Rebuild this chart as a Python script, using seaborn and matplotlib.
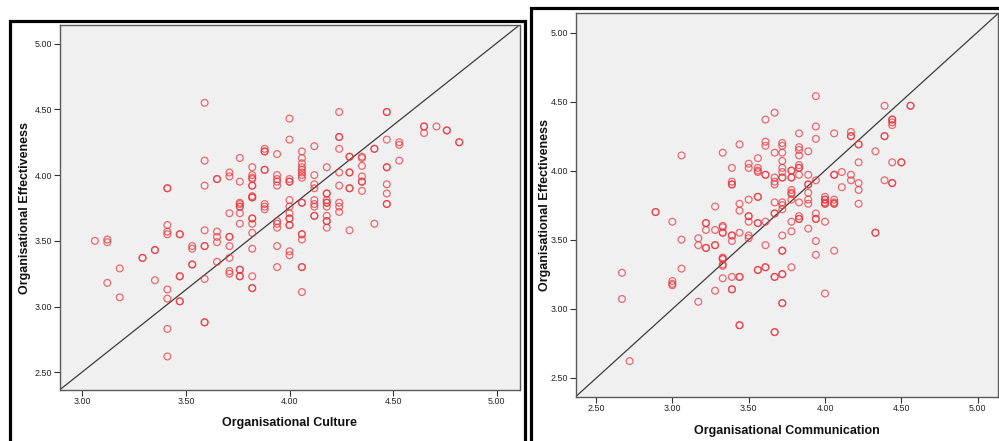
import matplotlib
matplotlib.use("Agg")
import matplotlib.pyplot as plt
from matplotlib.patches import Rectangle
from matplotlib.ticker import FixedLocator, FormatStrFormatter
import pandas as pd
import seaborn as sns

# ---- data: culture score levels and the effectiveness scores observed at each level
culture_levels = [3.06, 3.12, 3.18, 3.29, 3.35, 3.41, 3.47, 3.53, 3.59, 3.65,
                  3.71, 3.76, 3.82, 3.88, 3.94, 4.00, 4.06, 4.12, 4.18, 4.24,
                  4.29, 4.35, 4.41, 4.47, 4.53, 4.65, 4.71, 4.76, 4.82]
effectiveness_by_culture = [
    [3.50],
    [3.51, 3.49, 3.18],
    [3.29, 3.07],
    [3.37, 3.37],
    [3.43, 3.43, 3.20],
    [3.90, 3.90, 3.62, 3.57, 3.55, 3.13, 3.06, 2.83, 2.62],
    [3.55, 3.55, 3.23, 3.23, 3.04, 3.04],
    [3.46, 3.44, 3.32, 3.32],
    [4.55, 4.11, 3.92, 3.58, 3.46, 3.46, 3.21, 2.88, 2.88],
    [3.97, 3.97, 3.57, 3.53, 3.49, 3.34],
    [4.02, 3.99, 3.71, 3.53, 3.53, 3.46, 3.37, 3.27, 3.25],
    [4.13, 3.95, 3.79, 3.78, 3.76, 3.76, 3.71, 3.63, 3.28, 3.28, 3.23, 3.23],
    [4.06, 4.00, 3.98, 3.97, 3.92, 3.92, 3.84, 3.83, 3.83, 3.67, 3.67, 3.63,
     3.56, 3.44, 3.23, 3.14, 3.14],
    [4.20, 4.18, 4.18, 4.04, 4.04, 3.78, 3.76, 3.74],
    [4.16, 4.00, 3.97, 3.95, 3.92, 3.65, 3.63, 3.60, 3.46, 3.30],
    [4.43, 4.27, 3.97, 3.95, 3.95, 3.81, 3.76, 3.71, 3.67, 3.67, 3.62, 3.62,
     3.42, 3.39],
    [4.18, 4.13, 4.09, 4.06, 4.04, 4.02, 4.00, 3.98, 3.79, 3.79, 3.55, 3.55,
     3.51, 3.30, 3.30, 3.11],
    [4.22, 4.00, 3.93, 3.90, 3.81, 3.78, 3.76, 3.69, 3.69],
    [4.06, 3.86, 3.86, 3.81, 3.79, 3.79, 3.76, 3.69, 3.65, 3.65, 3.60],
    [4.48, 4.29, 4.29, 4.20, 4.02, 3.92, 3.79, 3.76, 3.72],
    [4.14, 4.14, 4.02, 4.02, 3.90, 3.90, 3.58],
    [4.14, 4.13, 4.07, 3.99, 3.95, 3.95, 3.88],
    [4.20, 4.20, 3.63],
    [4.48, 4.48, 4.27, 4.06, 4.06, 3.93, 3.86, 3.78, 3.78],
    [4.25, 4.23, 4.11],
    [4.37, 4.37, 4.32],
    [4.37],
    [4.34, 4.34],
    [4.25, 4.25],
]

# ---- data: communication score levels and the effectiveness scores at each level
communication_levels = [2.67, 2.72, 2.89, 3.00, 3.06, 3.17, 3.22, 3.28, 3.33, 3.39,
                        3.44, 3.50, 3.56, 3.61, 3.67, 3.72, 3.78, 3.83, 3.89, 3.94,
                        4.00, 4.06, 4.11, 4.17, 4.22, 4.33, 4.39, 4.44, 4.50, 4.56]
effectiveness_by_communication = [
    [3.26, 3.07],
    [2.62],
    [3.70, 3.70],
    [3.63, 3.20, 3.18, 3.17],
    [4.11, 3.50, 3.29],
    [3.51, 3.46, 3.05],
    [3.62, 3.62, 3.57, 3.44, 3.44],
    [3.74, 3.57, 3.46, 3.46, 3.13],
    [4.13, 3.60, 3.59, 3.55, 3.55, 3.37, 3.36, 3.36, 3.32, 3.31, 3.22],
    [4.02, 3.92, 3.90, 3.90, 3.53, 3.53, 3.49, 3.23, 3.14, 3.14],
    [4.19, 3.76, 3.71, 3.55, 3.23, 3.23, 2.88, 2.88],
    [4.05, 4.02, 3.79, 3.67, 3.67, 3.63, 3.53, 3.51],
    [4.09, 4.02, 4.00, 3.99, 3.81, 3.81, 3.62, 3.62, 3.28, 3.28],
    [4.37, 4.21, 4.18, 3.97, 3.97, 3.63, 3.46, 3.30, 3.30],
    [4.42, 4.13, 3.95, 3.92, 3.90, 3.77, 3.69, 3.69, 3.23, 3.23, 2.83, 2.83],
    [4.20, 4.18, 4.13, 4.07, 4.02, 3.99, 3.95, 3.95, 3.77, 3.75, 3.72, 3.53,
     3.42, 3.42, 3.25, 3.25, 3.04, 3.04],
    [4.00, 4.00, 3.95, 3.95, 3.86, 3.84, 3.83, 3.79, 3.63, 3.56, 3.30],
    [4.27, 4.17, 4.15, 4.11, 4.04, 4.02, 4.02, 3.97, 3.77, 3.67, 3.65, 3.65],
    [4.14, 3.97, 3.90, 3.90, 3.84, 3.79, 3.76, 3.58],
    [4.54, 4.32, 4.23, 3.93, 3.69, 3.65, 3.65, 3.49, 3.39],
    [3.81, 3.79, 3.79, 3.77, 3.76, 3.76, 3.63, 3.11],
    [4.27, 3.97, 3.97, 3.79, 3.77, 3.76, 3.76, 3.42],
    [3.99, 3.88],
    [4.28, 4.25, 4.25, 3.97, 3.93],
    [4.19, 4.19, 4.06, 3.91, 3.86, 3.76],
    [4.14, 3.55, 3.55],
    [4.47, 4.25, 4.25, 3.93],
    [4.37, 4.35, 4.33, 4.37, 4.06, 3.91, 3.91],
    [4.06, 4.06],
    [4.47, 4.47],
]

culture_ticks = [3.00, 3.50, 4.00, 4.50, 5.00]
communication_ticks = [2.50, 3.00, 3.50, 4.00, 4.50, 5.00]
effectiveness_ticks = [2.50, 3.00, 3.50, 4.00, 4.50, 5.00]

Y_NAME = "Organisational Effectiveness"


def to_frame(levels, groups, x_name):
    rows = [(x, y) for x, ys in zip(levels, groups) for y in ys]
    return pd.DataFrame(rows, columns=[x_name, Y_NAME])


culture_df = to_frame(culture_levels, effectiveness_by_culture, "Organisational Culture")
communication_df = to_frame(communication_levels, effectiveness_by_communication,
                            "Organisational Communication")

sns.set_theme(style="white")
plt.rcParams["font.family"] = ["Liberation Sans", "DejaVu Sans"]

W, H = 999, 441
fig = plt.figure(figsize=(W / 100, H / 100), dpi=100)
fig.patch.set_facecolor("white")

# heavy black output frames around each chart
fig.add_artist(Rectangle((9.5 / W, -0.1), (525.0 - 9.5) / W, 1.1 - 20.5 / H,
                         transform=fig.transFigure, fill=False, lw=2.3,
                         ec="black"))
fig.add_artist(Rectangle((530.5 / W, -0.1), 0.6, 1.1 - 8.0 / H,
                         transform=fig.transFigure, fill=False, lw=2.3,
                         ec="black"))


def px_axes(left, top, right, bottom):
    return fig.add_axes([left / W, 1 - bottom / H, (right - left) / W,
                         (bottom - top) / H])


ax1 = px_axes(59.5, 25.0, 519.5, 390.0)
ax2 = px_axes(575.7, 13.3, 998.3, 396.7)

POINT_RED = "#e8343c"


def draw(ax, df, x_name, xlim, ylim, xticks, yticks, xlabel_y, ylabel_x):
    ax.set_facecolor("#f0f0f0")
    sns.scatterplot(data=df, x=x_name, y=Y_NAME, ax=ax, marker="o", s=24,
                    facecolors="none", edgecolor=POINT_RED, linewidth=0.9,
                    alpha=0.72, legend=False, zorder=3)
    # 45-degree reference line across the plot frame
    ax.plot([0, 1], [0, 1], transform=ax.transAxes, color="#3c3c3c",
            lw=0.9, zorder=2)
    ax.set_xlim(*xlim)
    ax.set_ylim(*ylim)
    ax.xaxis.set_major_locator(FixedLocator(xticks))
    ax.yaxis.set_major_locator(FixedLocator(yticks))
    ax.xaxis.set_major_formatter(FormatStrFormatter("%.2f"))
    ax.yaxis.set_major_formatter(FormatStrFormatter("%.2f"))
    ax.tick_params(axis="both", which="major", direction="out", length=4.3,
                   width=0.8, color="#333333", labelsize=6.4,
                   labelcolor="#222222", pad=1.0, left=True, bottom=True)
    for side in ("left", "right", "top", "bottom"):
        ax.spines[side].set_visible(True)
        ax.spines[side].set_color("#5a5a5a")
        ax.spines[side].set_linewidth(1.0)
    ax.set_xlabel(x_name, fontsize=9, fontweight="bold", color="#111111")
    ax.set_ylabel(Y_NAME, fontsize=9, fontweight="bold", color="#111111")
    ax.xaxis.set_label_coords(0.5, xlabel_y)
    ax.yaxis.set_label_coords(ylabel_x, 0.5)
    ax.grid(False)


draw(ax1, culture_df, "Organisational Culture", (2.889, 5.111), (2.365, 5.142),
     culture_ticks, effectiveness_ticks, -0.073, -0.061)
draw(ax2, communication_df, "Organisational Communication", (2.367, 5.135),
     (2.362, 5.140), communication_ticks, effectiveness_ticks, -0.074, -0.059)

fig.savefig("out.png", dpi=100, facecolor="white")
